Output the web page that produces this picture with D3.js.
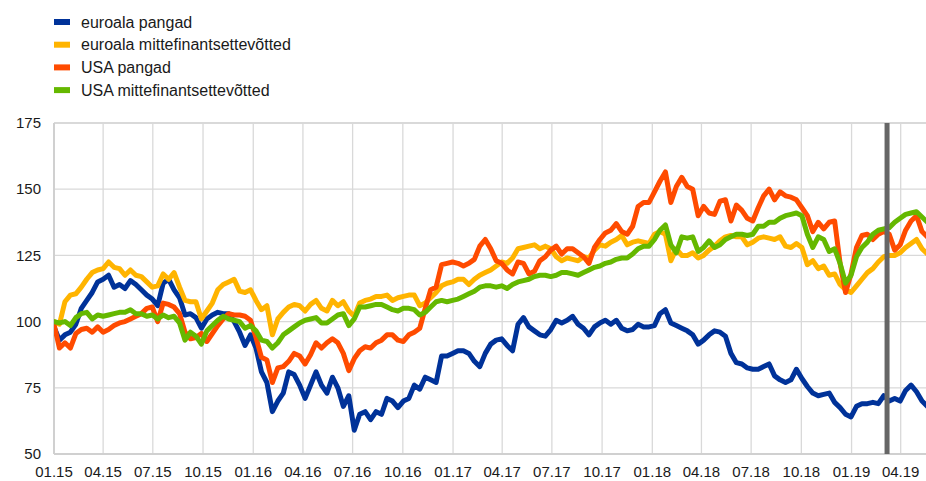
<!DOCTYPE html>
<html>
<head>
<meta charset="utf-8">
<script src="https://cdn.jsdelivr.net/npm/d3@7"></script>
<style>
  body { margin: 0; background: #fff; }
  svg { display: block; font-family: "Liberation Sans", Arial, sans-serif; }
</style>
</head>
<body>
<script>
// observation grid: one reading every 10 days from 1 Jan 2015
var startDate = "2015-01-01";
var stepDays = 10;

var seriesNames = ["euroala pangad", "euroala mittefinantsettevõtted", "USA pangad", "USA mittefinantsettevõtted"];
var seriesColors = ["#003299", "#FFB400", "#FF4B00", "#65B800"];

var euroalaPangad = [
  98, 93, 95, 96, 99, 105, 108, 111, 115, 116,
  117.5, 113, 114, 112.5, 115.5, 114, 112, 110, 108.5, 106,
  114.5, 116, 112, 109, 102.5, 103, 101.5, 97.5, 101, 102.5,
  103.5, 103, 103, 100, 96, 91, 95, 90, 81, 77,
  66, 70, 73, 81, 80, 76, 71, 76, 81, 76,
  73, 79, 75, 68, 72, 59, 65, 66, 63, 66,
  65, 71, 70, 67.5, 70, 71, 76, 74.5, 79, 78,
  77, 87, 87, 88, 89, 89, 88, 85, 83, 88,
  91.5, 93, 93.5, 91, 89, 99, 101.5, 98, 96.5, 95,
  94.5, 97, 100.5, 99.5, 100.5, 102, 99, 97.5, 95, 98,
  99.5, 100.5, 99, 100.5, 97.5, 96.5, 97, 99, 98, 98,
  98.5, 103, 104.5, 99.5, 98.5, 97.5, 96.5, 95, 91.5, 93,
  95, 96.5, 96, 94.5, 88, 84.5, 84, 82.5, 82, 82,
  83, 84, 79.5, 78, 77, 78, 82, 78.5, 75.5, 73,
  72, 72.5, 73, 69.5, 67.5, 65, 64, 68, 69, 69,
  69.5, 69, 72, 70, 71, 70, 74, 76, 73.5, 70,
  68
];

var euroalaMfe = [
  100, 99, 107.5, 110, 110.5, 113, 116, 118.5, 119.5, 120,
  122.5, 120.5, 120, 117.5, 119.5, 117.5, 117, 115, 113, 113.5,
  118, 116, 118.5, 113, 108, 107.5, 107.5, 101, 104, 107,
  112, 114, 115, 116, 111.5, 111, 112, 108, 104.5, 106,
  95, 101, 103.5, 105.5, 106.5, 106, 104, 106.5, 108, 105,
  104, 108, 106, 107.5, 104, 102, 107, 108, 108.5, 109.5,
  109.5, 110, 108, 109, 109.5, 110, 110, 106, 107, 109,
  111, 113.5, 114.5, 115, 116, 116, 114, 116, 117.5, 118.5,
  119.5, 121, 122.5, 122, 124, 127.5, 128, 128.5, 129, 127.5,
  128.5, 127.5, 124.5, 123, 124, 123.5, 123, 124.5, 124, 127,
  129, 128.5, 130, 131, 132.5, 129, 130, 130.5, 130, 129.5,
  133, 134, 133, 123, 127.5, 125, 125, 126, 124, 125,
  127, 128.5, 130.5, 132, 132.5, 132, 132, 129, 130, 131.5,
  132, 131.5, 131, 132, 128.5, 128, 129.5, 128, 121.5, 123,
  120, 121, 117.5, 118, 114, 112, 111, 113.5, 116, 118.5,
  120, 122.5, 124.5, 125, 125, 126, 128, 129.5, 131, 127.5,
  125.5
];

var usaPangad = [
  99, 90, 92, 90, 95.5, 97, 97.5, 96, 98, 96,
  97, 98.5, 99.5, 100, 101, 102, 103, 105, 105.5, 100,
  107, 106.5, 105.5, 103, 96, 93.5, 94, 95.5, 92.5, 95.5,
  98.5, 101, 103, 102.5, 102.5, 102, 100.5, 94, 86.5, 85.5,
  77, 82.5, 83, 85, 88, 87, 84, 87.5, 92, 90,
  92, 93.5, 92, 88, 81.5, 86, 89, 90.5, 90, 92,
  93, 95, 95, 93, 92.5, 95, 96, 97.5, 105, 112,
  113, 121.5, 122, 122.5, 122, 121, 122, 123.5, 128.5, 131,
  127.5, 123, 122, 119.5, 118, 122.5, 122, 118, 119, 123,
  124.5, 127, 128.5, 125.5, 127.5, 127.5, 126, 124.5, 122, 128,
  131, 133.5, 134.5, 137, 134, 133, 136, 143.5, 145, 145,
  149, 153, 156.5, 145, 151, 154.5, 151, 150, 140, 143.5,
  141, 140.5, 145.5, 146, 138, 144, 142, 139, 138, 143,
  147.5, 150, 146, 149, 147.5, 147, 146, 143, 140, 134,
  137.5, 135, 137.5, 138, 122, 111, 118, 128, 132.5, 133,
  131, 133, 134, 133, 127, 129, 134.5, 138, 140, 134,
  132
];

var usaMfe = [
  100, 99.5, 100, 98.5, 101.5, 103, 103.5, 101, 102.5, 102,
  102.5, 103, 103.5, 103.5, 104.5, 103, 103, 102, 102.5, 101,
  102.5, 101.5, 102, 99.5, 93, 96, 94.5, 91.5, 96.5, 98.5,
  100.5, 102, 101, 100.5, 100, 97.5, 98.5, 96.5, 93, 92.5,
  90, 92, 95, 96.5, 98, 99.5, 100.5, 101, 101.5, 99.5,
  99.5, 101, 102.5, 103, 98.5, 101, 105.5, 105.5, 106, 106.5,
  106.5, 105.5, 104.5, 104, 105, 105, 104.5, 102.5, 103.5, 105.5,
  107.5, 108, 107.5, 108, 108.5, 109.5, 110.5, 111.5, 113, 113.5,
  113.5, 113, 113.5, 112.5, 114, 115, 115.5, 116, 117, 117.5,
  117.5, 117, 117.5, 118.5, 118.5, 118, 117.5, 118.5, 119.5, 120.5,
  121, 122, 122.5, 123.5, 124, 124, 125.5, 127.5, 128.5, 128.5,
  131, 134.5, 136.5, 129, 126, 132, 131.5, 132, 126.5, 128,
  130.5, 128, 129, 131, 132, 133, 133, 132.5, 133, 136,
  136, 137.5, 137.5, 139, 140, 140.5, 141, 140, 133, 128,
  132, 131, 126.5, 127.5, 122, 114.5, 117.5, 124.5, 128, 130,
  133, 134.5, 135, 135.5, 137.5, 139, 140.5, 141, 141.5, 139.5,
  137.5
];

var yTicks = [50, 75, 100, 125, 150, 175];
var markerDate = "2019-03-07";

var seriesValues = [euroalaPangad, euroalaMfe, usaPangad, usaMfe];

var width = 926, height = 481;
var plot = {left: 54, right: 926, top: 123, bottom: 454};

var parse = d3.utcParse("%Y-%m-%d");
var t0 = parse(startDate);
var dates = euroalaPangad.map(function(d, i) { return d3.utcDay.offset(t0, i * stepDays); });

// quarter ticks keep an even spacing, 04.19 sits at x = 900.7
var x = d3.scaleUtc()
    .domain([parse("2015-01-01"), parse("2019-04-01")])
    .range([plot.left, 900.7]);

var y = d3.scaleLinear()
    .domain([50, 175])
    .range([plot.bottom, plot.top]);

var xTicks = d3.utcMonth.every(3).range(parse("2015-01-01"), parse("2019-04-02"));
var fmt = d3.utcFormat("%m.%y");

var svg = d3.select("body").append("svg")
    .attr("width", width)
    .attr("height", height);

svg.append("defs").append("clipPath").attr("id", "clip")
  .append("rect")
    .attr("x", plot.left)
    .attr("y", plot.top - 10)
    .attr("width", plot.right - plot.left)
    .attr("height", plot.bottom - plot.top + 10);

// grid
svg.append("g")
  .selectAll("line")
  .data(yTicks.slice(1))
  .enter().append("line")
    .attr("x1", plot.left).attr("x2", plot.right)
    .attr("y1", function(d) { return y(d); })
    .attr("y2", function(d) { return y(d); })
    .attr("stroke", "#d9d9d9")
    .attr("stroke-width", function(d) { return d === 175 ? 2 : 1.3; });

svg.append("g")
  .selectAll("line")
  .data(xTicks.slice(1))
  .enter().append("line")
    .attr("x1", function(d) { return x(d); })
    .attr("x2", function(d) { return x(d); })
    .attr("y1", plot.top).attr("y2", plot.bottom)
    .attr("stroke", "#d9d9d9")
    .attr("stroke-width", 1.3);

// axis lines
svg.append("line")
    .attr("x1", plot.left).attr("x2", plot.left)
    .attr("y1", plot.top).attr("y2", plot.bottom)
    .attr("stroke", "#d0d0d0").attr("stroke-width", 2);
svg.append("line")
    .attr("x1", plot.left).attr("x2", plot.right)
    .attr("y1", plot.bottom).attr("y2", plot.bottom)
    .attr("stroke", "#d0d0d0").attr("stroke-width", 2);

// tick labels
svg.append("g")
  .selectAll("text")
  .data(yTicks)
  .enter().append("text")
    .attr("x", 41)
    .attr("y", function(d) { return y(d); })
    .attr("dy", "0.35em")
    .attr("text-anchor", "end")
    .attr("font-size", 15)
    .attr("fill", "#1a1a1a")
    .text(function(d) { return d; });

svg.append("g")
  .selectAll("text")
  .data(xTicks)
  .enter().append("text")
    .attr("x", function(d) { return x(d); })
    .attr("y", 477)
    .attr("text-anchor", "middle")
    .attr("font-size", 15)
    .attr("fill", "#1a1a1a")
    .text(function(d) { return fmt(d); });

// lines
var line = d3.line()
    .x(function(d, i) { return x(dates[i]); })
    .y(function(d) { return y(d); });

svg.append("g")
    .attr("clip-path", "url(#clip)")
  .selectAll("path")
  .data(seriesValues)
  .enter().append("path")
    .attr("d", line)
    .attr("fill", "none")
    .attr("stroke", function(d, i) { return seriesColors[i]; })
    .attr("stroke-width", 5)
    .attr("stroke-linejoin", "round")
    .attr("stroke-linecap", "round");

// marker line
svg.append("line")
    .attr("x1", x(parse(markerDate))).attr("x2", x(parse(markerDate)))
    .attr("y1", plot.top).attr("y2", plot.bottom)
    .attr("stroke", "#666666")
    .attr("stroke-width", 5);

// legend
var legend = svg.append("g")
  .selectAll("g")
  .data(seriesNames)
  .enter().append("g")
    .attr("transform", function(d, i) { return "translate(54," + (22 + i * 22.7) + ")"; });

legend.append("rect")
    .attr("x", 0).attr("y", -3)
    .attr("width", 16).attr("height", 6)
    .attr("fill", function(d, i) { return seriesColors[i]; });

legend.append("text")
    .attr("x", 27)
    .attr("dy", "0.35em")
    .attr("font-size", 16)
    .attr("fill", "#1a1a1a")
    .text(function(d) { return d; });
</script>
</body>
</html>
